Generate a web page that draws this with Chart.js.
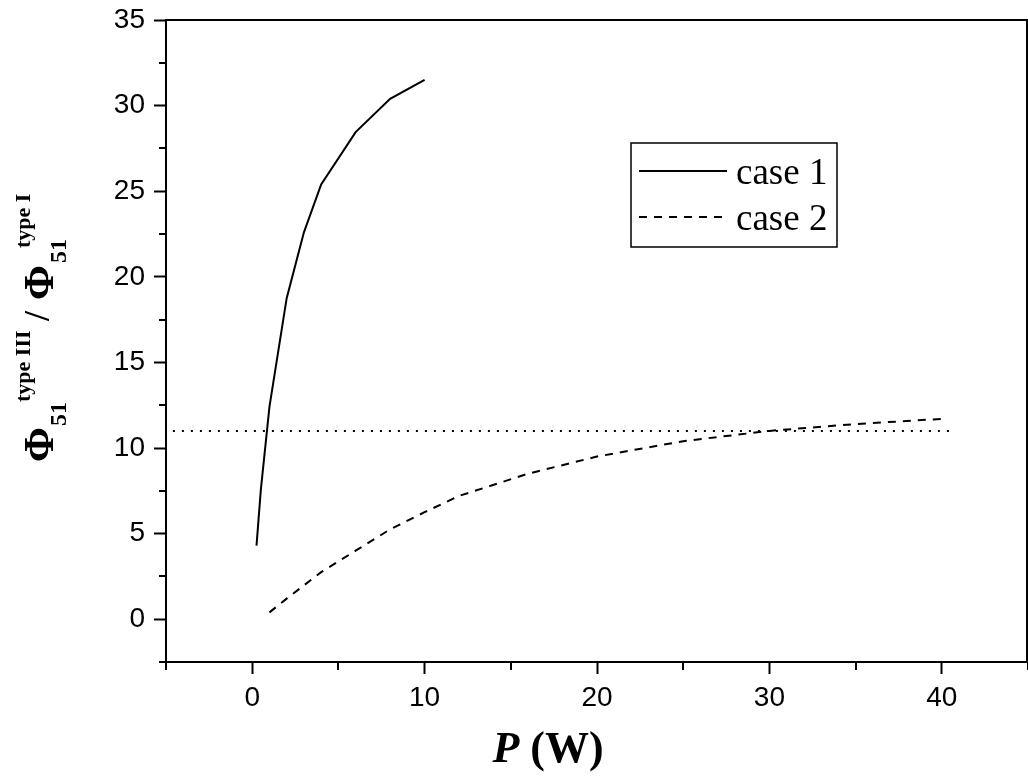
<!DOCTYPE html>
<html>
<head>
<meta charset="utf-8">
<script src="https://cdn.jsdelivr.net/npm/chart.js@4.4.1/dist/chart.umd.min.js"></script>
<style>
  html, body { margin: 0; padding: 0; background: #fff; overflow: hidden; }
  canvas { display: block; }
</style>
</head>
<body>
<canvas id="ratioChart" width="1028" height="780"></canvas>
<script>
// values
const case1P = [0.25, 0.5, 1, 2, 3, 4, 6, 8, 10];
const case1Ratio = [4.3, 7.55, 12.4, 18.75, 22.6, 25.4, 28.45, 30.4, 31.5];

const case2P = [1, 2, 4, 6, 8, 10, 12, 16, 20, 25, 30, 35, 40];
const case2Ratio = [0.4, 1.2, 2.75, 4.0, 5.25, 6.25, 7.2, 8.5, 9.5, 10.4, 11.0, 11.4, 11.7];

const refP = [-4.6, 40.7];
const refRatio = [11.0, 11.0];

const xMajorTicks = [0, 10, 20, 30, 40];
const xMinorTicks = [-5, 5, 15, 25, 35, 45];
const yMajorTicks = [0, 5, 10, 15, 20, 25, 30, 35];
const yMinorTicks = [-2.5, 2.5, 7.5, 12.5, 17.5, 22.5, 27.5, 32.5];

const legendLabels = ["case 1", "case 2"];

const toPoints = (xs, ys) => xs.map((x, i) => ({ x: x, y: ys[i] }));

const SANS = "'Liberation Sans', Arial, sans-serif";
const SERIF = "'Liberation Serif', 'Times New Roman', serif";

// frame, minor ticks, legend box and the two axis titles
const decorPlugin = {
  id: "decor",
  afterDraw: (chart) => {
    const ctx = chart.ctx;
    const area = chart.chartArea;
    const xs = chart.scales.x;
    const ys = chart.scales.y;

    ctx.save();
    ctx.strokeStyle = "#000";
    ctx.lineWidth = 2;

    // top + right frame
    ctx.beginPath();
    ctx.moveTo(area.left, area.top);
    ctx.lineTo(area.right - 1, area.top);
    ctx.lineTo(area.right - 1, area.bottom);
    ctx.stroke();

    // minor ticks
    ctx.beginPath();
    xMinorTicks.forEach(v => {
      const px = Math.round(xs.getPixelForValue(v));
      ctx.moveTo(px, area.bottom);
      ctx.lineTo(px, area.bottom + 8);
    });
    yMinorTicks.forEach(v => {
      const py = Math.round(ys.getPixelForValue(v));
      ctx.moveTo(area.left, py);
      ctx.lineTo(area.left - 7, py);
    });
    ctx.stroke();

    // legend
    const ds = chart.data.datasets;
    ctx.lineWidth = 1.5;
    ctx.strokeRect(631, 143, 206, 104);
    ctx.font = "37px " + SERIF;
    ctx.fillStyle = "#000";
    ctx.textAlign = "left";
    ctx.textBaseline = "alphabetic";
    const rows = [{ y: 171, base: 184 }, { y: 217, base: 230 }];
    legendLabels.forEach((txt, i) => {
      ctx.lineWidth = 2;
      ctx.setLineDash(ds[i].borderDash || []);
      ctx.beginPath();
      ctx.moveTo(639, rows[i].y);
      ctx.lineTo(727, rows[i].y);
      ctx.stroke();
      ctx.setLineDash([]);
      ctx.fillText(txt, 736, rows[i].base);
    });

    // x title: P (W)
    ctx.font = "italic bold 44px " + SERIF;
    const pW = ctx.measureText("P").width;
    ctx.font = "bold 44px " + SERIF;
    const restW = ctx.measureText(" (W)").width;
    const startX = 548 - (pW + restW) / 2;
    ctx.font = "italic bold 44px " + SERIF;
    ctx.fillText("P", startX, 762);
    ctx.font = "bold 44px " + SERIF;
    ctx.fillText(" (W)", startX + pW, 762);

    // y title: Φ51^type III / Φ51^type I (rotated)
    ctx.translate(53, 462);
    ctx.rotate(-Math.PI / 2);
    const parts = [
      { t: "\u03A6", u: 0, v: 0, f: "bold 42px " },
      { t: "51", u: 36, v: 13, f: "bold 24px " },
      { t: "type III", u: 60, v: -23, f: "bold 22px " },
      { t: "/", u: 141, v: -4, f: "bold 36px " },
      { t: "\u03A6", u: 162, v: 0, f: "bold 42px " },
      { t: "51", u: 199, v: 13, f: "bold 24px " },
      { t: "type I", u: 214, v: -23, f: "bold 22px " }
    ];
    parts.forEach(p => {
      ctx.font = p.f + SERIF;
      ctx.fillText(p.t, p.u, p.v);
    });
    ctx.restore();
  }
};

new Chart(document.getElementById("ratioChart").getContext("2d"), {
  type: "scatter",
  data: {
    datasets: [
      {
        label: legendLabels[0],
        data: toPoints(case1P, case1Ratio),
        showLine: true,
        borderColor: "#000",
        borderWidth: 2,
        pointRadius: 0,
        tension: 0
      },
      {
        label: legendLabels[1],
        data: toPoints(case2P, case2Ratio),
        showLine: true,
        borderColor: "#000",
        borderWidth: 2,
        borderDash: [8, 7],
        pointRadius: 0,
        tension: 0
      },
      {
        label: "reference",
        data: toPoints(refP, refRatio),
        showLine: true,
        borderColor: "#000",
        borderWidth: 2,
        borderDash: [2, 7],
        pointRadius: 0,
        tension: 0
      }
    ]
  },
  options: {
    responsive: false,
    animation: false,
    layout: { padding: { top: 20, right: 0, left: 0, bottom: 0 } },
    plugins: {
      legend: { display: false },
      tooltip: { enabled: false },
      title: { display: false }
    },
    scales: {
      x: {
        type: "linear",
        min: -5,
        max: 45,
        afterFit: (scale) => {
          scale.height = 118;
          scale.paddingLeft = 0;
          scale.paddingRight = 0;
        },
        afterBuildTicks: (scale) => { scale.ticks = xMajorTicks.map(v => ({ value: v })); },
        ticks: {
          color: "#000",
          font: { family: SANS, size: 28 },
          padding: 7,
          maxRotation: 0
        },
        grid: {
          drawOnChartArea: false,
          drawTicks: true,
          tickLength: 12,
          tickWidth: 2,
          tickColor: "#000"
        },
        border: { color: "#000", width: 2 }
      },
      y: {
        type: "linear",
        min: -2.5,
        max: 35,
        afterFit: (scale) => {
          scale.width = 166;
          scale.paddingTop = 0;
          scale.paddingBottom = 0;
        },
        afterBuildTicks: (scale) => { scale.ticks = yMajorTicks.map(v => ({ value: v })); },
        ticks: {
          color: "#000",
          font: { family: SANS, size: 28 },
          padding: 9
        },
        grid: {
          drawOnChartArea: false,
          drawTicks: true,
          tickLength: 12,
          tickWidth: 2,
          tickColor: "#000"
        },
        border: { color: "#000", width: 2 }
      }
    }
  },
  plugins: [decorPlugin]
});
</script>
</body>
</html>
